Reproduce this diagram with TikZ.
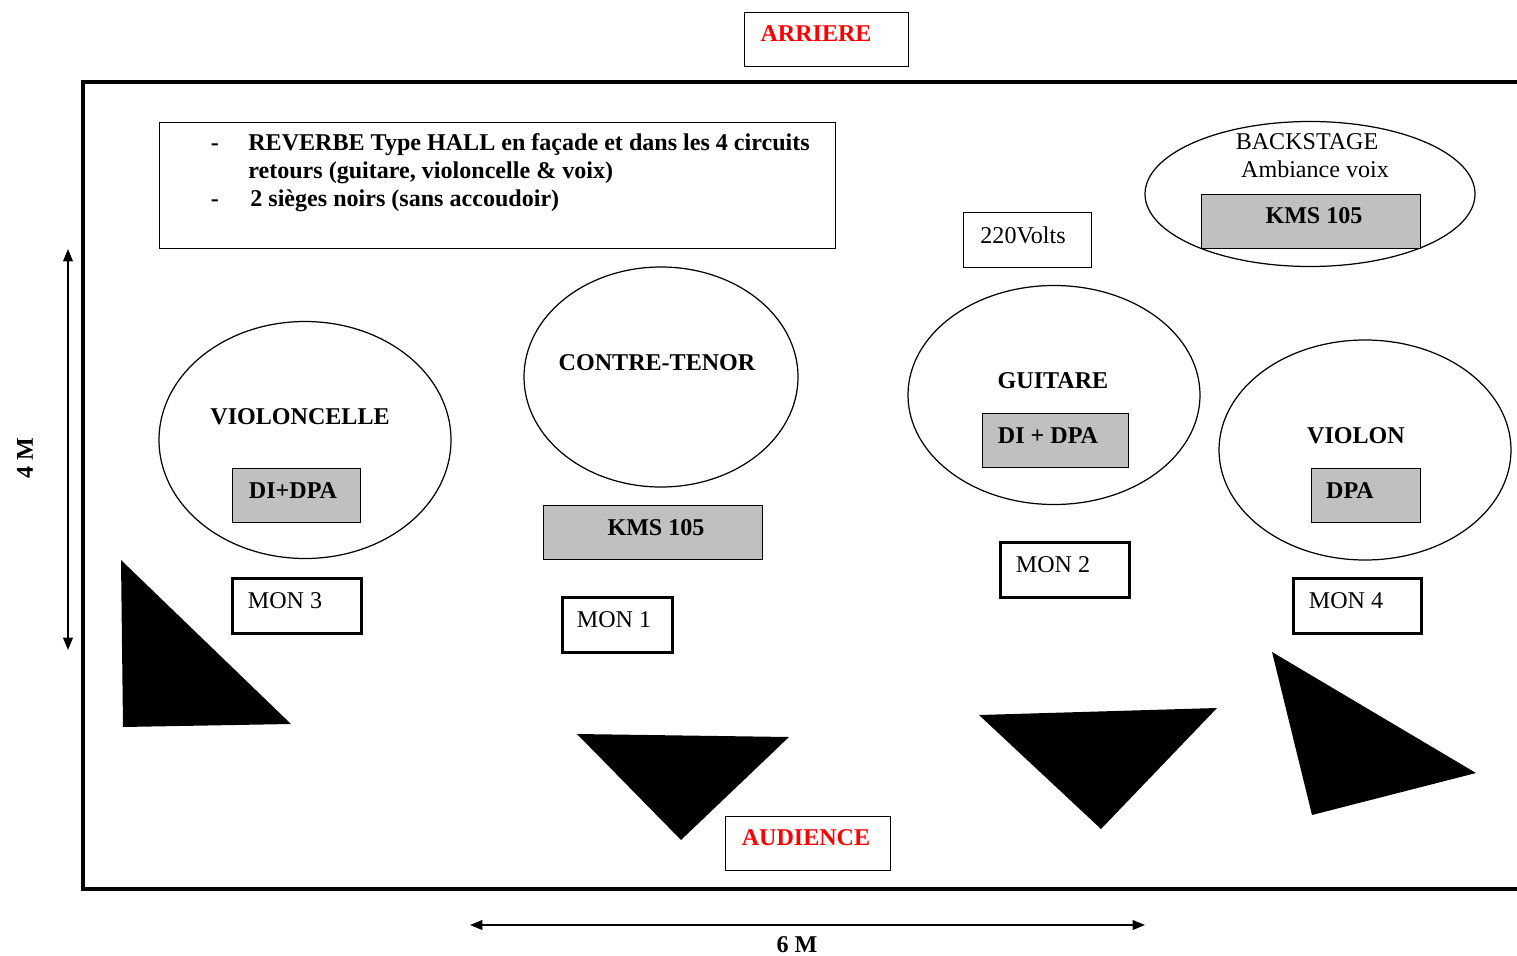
\documentclass[tikz,border=0pt]{standalone}
\usepackage{fontspec}
\setmainfont{Liberation Serif}
\usetikzlibrary{shapes.geometric,arrows.meta}
\definecolor{boxgray}{RGB}{192,192,192}
\definecolor{labred}{RGB}{255,0,0}
\begin{document}
\begin{tikzpicture}[x=0.02cm,y=-0.02cm,
  txt/.style={font=\fontsize{13.7}{16}\selectfont, inner sep=0pt, anchor=base},
  btxt/.style={txt, font=\fontsize{13.7}{16}\bfseries\selectfont},
  rtxt/.style={btxt, text=labred},
  thinbox/.style={draw, line width=0.7pt, inner sep=0pt, anchor=north west},
  graybox/.style={thinbox, fill=boxgray},
  monbox/.style={draw, line width=1.6pt, inner sep=0pt, anchor=north west},
  zone/.style={draw, ellipse, line width=0.7pt, inner sep=0pt},
  spk/.style={fill=black},
  dim/.style={line width=0.9pt, {Triangle[length=7pt,width=5.5pt]}-{Triangle[length=7pt,width=5.5pt]}}
]
\useasboundingbox (0,0) rectangle (1517,956);

% stage frame
\coordinate (fTR) at (1517,82);
\coordinate (fTL) at (83,82);
\coordinate (fBL) at (83,889);
\coordinate (fBR) at (1517,889);
\draw[line width=2.4pt] (fTR) -- (fTL) -- (fBL) -- (fBR);

% ARRIERE
\node[thinbox, minimum width=164*0.02cm, minimum height=54*0.02cm] (arrB) at (744,12) {};
\node[rtxt] (arrT) at (816,42) {ARRIERE};

% note box
\node[thinbox, minimum width=676*0.02cm, minimum height=126*0.02cm] (noteB) at (159,122) {};
\node[btxt] (b1) at (215,151) {-};
\node[btxt, anchor=base west] (n1) at (248,151) {REVERBE Type HALL en façade et dans les 4 circuits};
\node[btxt, anchor=base west] (n2) at (248,179) {retours (guitare, violoncelle \& voix)};
\node[btxt] (b2) at (215,207) {-};
\node[btxt, anchor=base west] (n3) at (250,207) {2 sièges noirs (sans accoudoir)};

% backstage
\node[zone, minimum width=330*0.02cm, minimum height=145*0.02cm] (bsE) at (1310,194) {};
\node[txt] (bsT1) at (1307,150) {BACKSTAGE};
\node[txt] (bsT2) at (1315,178) {Ambiance voix};
\node[graybox, minimum width=219*0.02cm, minimum height=54*0.02cm] (bsK) at (1201,194) {};
\node[btxt] (bsKT) at (1314,224) {KMS 105};

% 220 Volts
\node[thinbox, minimum width=128*0.02cm, minimum height=55*0.02cm] (vB) at (963,212) {};
\node[txt] (vT) at (1023,243) {220Volts};

% contre-tenor
\node[zone, minimum width=274*0.02cm, minimum height=220*0.02cm] (ctE) at (661,377) {};
\node[btxt] (ctT) at (657,370) {CONTRE-TENOR};
\node[graybox, minimum width=219*0.02cm, minimum height=54*0.02cm] (ctK) at (543,505) {};
\node[btxt] (ctKT) at (656,535) {KMS 105};
\node[monbox, minimum width=110*0.02cm, minimum height=55*0.02cm] (m1B) at (561,596) {};
\node[txt] (m1T) at (614,627) {MON 1};

% violoncelle
\node[zone, minimum width=292*0.02cm, minimum height=237*0.02cm] (vcE) at (305,440) {};
\node[btxt] (vcT) at (300,424) {VIOLONCELLE};
\node[graybox, minimum width=128*0.02cm, minimum height=54*0.02cm] (vcD) at (232,468) {};
\node[btxt] (vcDT) at (293,498) {DI+DPA};
\node[monbox, minimum width=129*0.02cm, minimum height=55*0.02cm] (m3B) at (231,577) {};
\node[txt] (m3T) at (285,608) {MON 3};

% guitare
\node[zone, minimum width=292*0.02cm, minimum height=219*0.02cm] (gE) at (1054,395) {};
\node[btxt] (gT) at (1053,388) {GUITARE};
\node[graybox, minimum width=146*0.02cm, minimum height=54*0.02cm] (gD) at (982,413) {};
\node[btxt] (gDT) at (1048,443) {DI + DPA};
\node[monbox, minimum width=129*0.02cm, minimum height=55*0.02cm] (m2B) at (999,541) {};
\node[txt] (m2T) at (1053,572) {MON 2};

% violon
\node[zone, minimum width=292*0.02cm, minimum height=220*0.02cm] (vlE) at (1365,450) {};
\node[btxt] (vlT) at (1356,443) {VIOLON};
\node[graybox, minimum width=109*0.02cm, minimum height=54*0.02cm] (vlD) at (1311,468) {};
\node[btxt] (vlDT) at (1350,498) {DPA};
\node[monbox, minimum width=128*0.02cm, minimum height=55*0.02cm] (m4B) at (1292,577) {};
\node[txt] (m4T) at (1346,608) {MON 4};

% speakers (black triangles)
\fill[spk] (121,560) -- (123,727) -- (291,724) -- cycle;
\fill[spk] (577,734) -- (789,737) -- (681,840) -- cycle;
\fill[spk] (979,715) -- (1217,708) -- (1101,829) -- cycle;
\fill[spk] (1272,652) -- (1312,815) -- (1476,773) -- cycle;

% AUDIENCE
\node[thinbox, minimum width=165*0.02cm, minimum height=54*0.02cm] (audB) at (725,816) {};
\node[rtxt] (audT) at (806,845) {AUDIENCE};

% dimensions
\coordinate (hL) at (470,925);
\coordinate (hR) at (1145,925);
\draw[dim] (hL) -- (hR);
\node[btxt] (sixM) at (797,952) {6 M};
\coordinate (vT1) at (68,249);
\coordinate (vB1) at (68,650);
\draw[dim] (vT1) -- (vB1);
\node[btxt, anchor=center, rotate=90] (fourM) at (25,458) {4 M};
\end{tikzpicture}
\end{document}
